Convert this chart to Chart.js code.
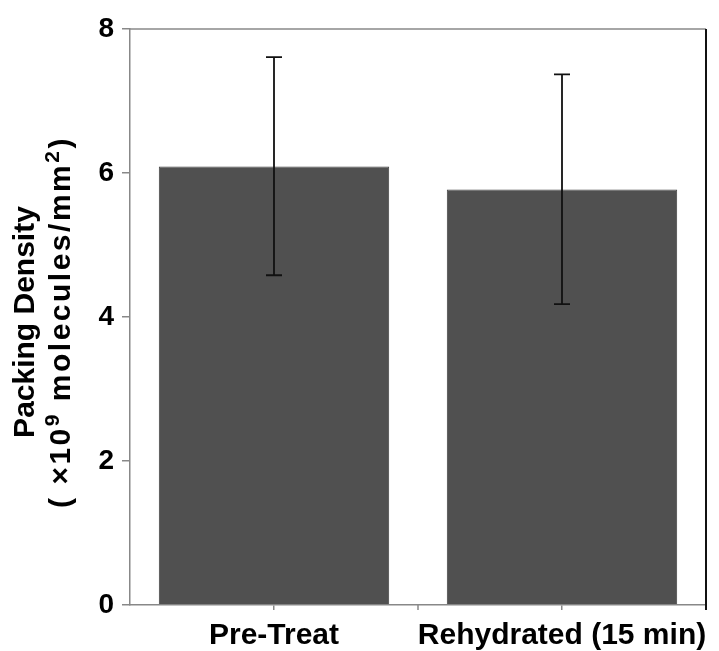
<!DOCTYPE html>
<html>
<head>
<meta charset="utf-8">
<script src="https://cdn.jsdelivr.net/npm/chart.js@4/dist/chart.umd.min.js"></script>
<style>
  html, body { margin: 0; padding: 0; background: #fff; }
  #wrap { width: 719px; height: 651px; }
</style>
</head>
<body>
<div id="wrap"><canvas id="chart"></canvas></div>
<script>
const categories = ['Pre-Treat', 'Rehydrated (15 min)'];
const density = [6.09, 5.77];
const errLow = [4.58, 4.18];
const errHigh = [7.61, 7.37];
const yTicks = [0, 2, 4, 6, 8];
// y title, second line split in normal / superscript pieces
const titleLine1 = 'Packing Density';
const titleLine2 = [['( ×10', false], ['9', true], [' molecules/mm', false], ['2', true], [')', false]];

const FONT = 'Liberation Sans, Arial, sans-serif';

const extras = {
  id: 'extras',
  afterDatasetsDraw(chart) {
    const {ctx, chartArea, scales} = chart;
    const x = scales.x, y = scales.y;
    ctx.save();
    // frame top and right
    ctx.strokeStyle = '#888';
    ctx.lineWidth = 1.5;
    ctx.beginPath();
    ctx.moveTo(chartArea.left, chartArea.top);
    ctx.lineTo(chartArea.right, chartArea.top);
    ctx.stroke();
    ctx.strokeStyle = '#111';
    ctx.lineWidth = 2;
    ctx.beginPath();
    ctx.moveTo(chartArea.right, chartArea.top);
    ctx.lineTo(chartArea.right, chartArea.bottom + 5);
    ctx.stroke();
    // tick between categories
    ctx.strokeStyle = '#888';
    ctx.lineWidth = 1.5;
    for (let i = 0; i < categories.length - 1; i++) {
      const mid = (x.getPixelForValue(i) + x.getPixelForValue(i + 1)) / 2;
      ctx.beginPath();
      ctx.moveTo(mid, chartArea.bottom);
      ctx.lineTo(mid, chartArea.bottom + 5);
      ctx.stroke();
    }
    // error bars
    ctx.strokeStyle = '#111';
    ctx.lineWidth = 1.8;
    for (let i = 0; i < categories.length; i++) {
      const cx = x.getPixelForValue(i);
      const top = y.getPixelForValue(errHigh[i]);
      const bot = y.getPixelForValue(errLow[i]);
      ctx.beginPath();
      ctx.moveTo(cx, top); ctx.lineTo(cx, bot);
      ctx.moveTo(cx - 8, top); ctx.lineTo(cx + 8, top);
      ctx.moveTo(cx - 8, bot); ctx.lineTo(cx + 8, bot);
      ctx.stroke();
    }

    // y axis title (rotated, with superscripts)
    const cy = (chartArea.top + chartArea.bottom) / 2 + 5;
    ctx.fillStyle = '#000';
    ctx.textBaseline = 'middle';
    ctx.save();
    ctx.translate(26, cy);
    ctx.rotate(-Math.PI / 2);
    ctx.font = 'bold 30px ' + FONT;
    ctx.textAlign = 'center';
    ctx.fillText(titleLine1, 0, 0);
    ctx.restore();

    ctx.save();
    ctx.translate(62, cy);
    ctx.rotate(-Math.PI / 2);
    ctx.textAlign = 'left';
    ctx.letterSpacing = '2.5px';
    let total = 0;
    titleLine2.forEach(([t, sup]) => {
      ctx.font = (sup ? 'bold 21px ' : 'bold 30px ') + FONT;
      total += ctx.measureText(t).width;
    });
    let px = -total / 2;
    titleLine2.forEach(([t, sup]) => {
      ctx.font = (sup ? 'bold 21px ' : 'bold 30px ') + FONT;
      ctx.fillText(t, px, sup ? -9 : 0);
      px += ctx.measureText(t).width;
    });
    ctx.restore();
    ctx.restore();
  }
};

new Chart(document.getElementById('chart'), {
  type: 'bar',
  data: {
    labels: categories,
    datasets: [{
      data: density,
      backgroundColor: '#505050',
      borderColor: '#404040',
      borderWidth: 1,
      categoryPercentage: 0.8,
      barPercentage: 1.0
    }]
  },
  options: {
    responsive: true,
    maintainAspectRatio: false,
    animation: false,
    layout: { padding: { left: 0, top: 29, right: 13, bottom: 0 } },
    plugins: { legend: { display: false }, tooltip: { enabled: false } },
    scales: {
      x: {
        grid: { offset: false, drawOnChartArea: false, tickLength: 5, color: '#888', lineWidth: 1.5 },
        border: { color: '#888', width: 1.5 },
        ticks: {
          color: '#000',
          padding: 8,
          maxRotation: 0,
          autoSkip: false,
          font: { family: FONT, size: 30, weight: 'bold' }
        },
        afterFit(scale) { scale.height = 46; }
      },
      y: {
        min: 0,
        max: 8,
        afterBuildTicks(scale) { scale.ticks = yTicks.map(v => ({value: v})); },
        grid: { drawOnChartArea: false, tickLength: 8, color: '#888', lineWidth: 1.5 },
        border: { color: '#888', width: 1.5 },
        ticks: {
          color: '#000',
          padding: 8,
          font: { family: FONT, size: 28, weight: 'bold' }
        },
        afterFit(scale) { scale.width = 130; }
      }
    }
  },
  plugins: [extras]
});
</script>
</body>
</html>
